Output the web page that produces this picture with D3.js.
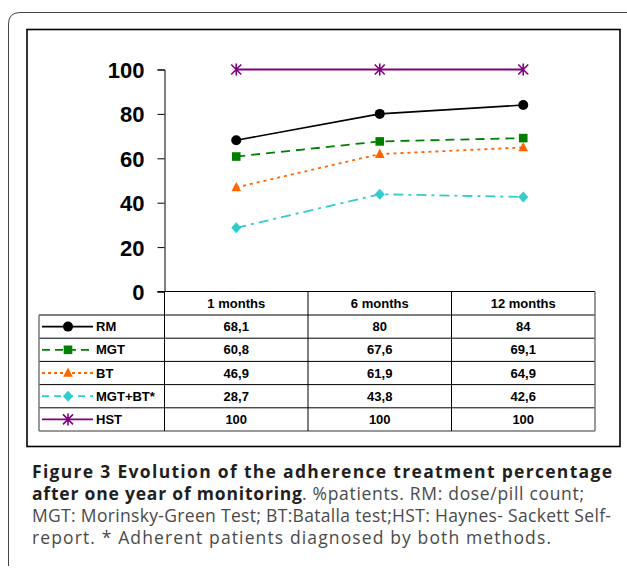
<!DOCTYPE html>
<html><head><meta charset="utf-8">
<script src="https://cdn.jsdelivr.net/npm/d3@7"></script>
<style>
html,body{margin:0;padding:0;background:#fff;}
svg{display:block;}
</style></head>
<body>
<svg id="c" width="627" height="569"></svg>
<script>
const categories = ["1 months", "6 months", "12 months"];
const seriesNames = ["RM", "MGT", "BT", "MGT+BT*", "HST"];
const rmValues = [68.1, 80, 84];
const mgtValues = [60.8, 67.6, 69.1];
const btValues = [46.9, 61.9, 64.9];
const mgtBtValues = [28.7, 43.8, 42.6];
const hstValues = [100, 100, 100];
const valueLabels = [
  ["68,1", "80", "84"],
  ["60,8", "67,6", "69,1"],
  ["46,9", "61,9", "64,9"],
  ["28,7", "43,8", "42,6"],
  ["100", "100", "100"]
];
const yTicks = [0, 20, 40, 60, 80, 100];

const styles = [
  {color:"#000000", dash:null, marker:"circle", width:1.6},
  {color:"#008000", dash:"9,6", marker:"square", width:1.8},
  {color:"#ff6600", dash:"3,4", marker:"triangle", width:1.8},
  {color:"#33cccc", dash:"10,5,3,5", marker:"diamond", width:1.8},
  {color:"#800080", dash:null, marker:"star", width:1.8}
];
const allValues = [rmValues, mgtValues, btValues, mgtBtValues, hstValues];

const svg = d3.select("#c");

// outer rounded frame
svg.append("path")
  .attr("d", "M8.5,566 L8.5,24 Q8.5,12.5 20,12.5 L640,12.5")
  .attr("fill","none").attr("stroke","#444").attr("stroke-width",1);

// inner chart box
svg.append("rect").attr("x",27).attr("y",29.5).attr("width",593).attr("height",417)
  .attr("fill","none").attr("stroke","#000").attr("stroke-width",1.6);

const colEdges = [164.5, 308, 451.5, 595];
const x = d3.scalePoint().domain(categories).range([236.25, 523.25]);
const y = d3.scaleLinear().domain([0,100]).range([291.5, 69.5]);

// Y axis
const yAxis = d3.axisLeft(y).tickValues(yTicks).tickSize(7).tickPadding(13).tickFormat(d3.format("d"));
const gy = svg.append("g").attr("transform","translate(164.5,0)").call(yAxis);
gy.select(".domain").attr("stroke","#000").attr("stroke-width",1);
gy.selectAll(".tick line").attr("stroke","#000");
gy.selectAll(".tick text").attr("font-family","'Liberation Sans', Arial, sans-serif")
  .attr("font-weight","bold").attr("font-size",22).attr("fill","#000")
  .attr("dy","0.36em");

// lines & markers
const line = d3.line().x((d,i)=>x(categories[i])).y(d=>y(d));
function drawMarker(g, type, color, cx, cy){
  if(type==="circle"){
    g.append("circle").attr("cx",cx).attr("cy",cy).attr("r",5).attr("fill",color);
  } else if(type==="square"){
    g.append("rect").attr("x",cx-4.3).attr("y",cy-4.3).attr("width",8.6).attr("height",8.6).attr("fill",color);
  } else if(type==="triangle"){
    g.append("path").attr("d",`M${cx},${cy-5.5}L${cx+4.8},${cy+3.8}L${cx-4.8},${cy+3.8}Z`).attr("fill",color);
  } else if(type==="diamond"){
    g.append("path").attr("d",`M${cx},${cy-5.5}L${cx+5},${cy}L${cx},${cy+5.5}L${cx-5},${cy}Z`).attr("fill",color);
  } else if(type==="star"){
    const s=5;
    g.append("path").attr("d",`M${cx-s},${cy-s}L${cx+s},${cy+s}M${cx-s},${cy+s}L${cx+s},${cy-s}M${cx},${cy-s-1}L${cx},${cy+s+1}`)
      .attr("stroke",color).attr("stroke-width",1.6).attr("fill","none");
  }
}
allValues.forEach((vals,si)=>{
  const st = styles[si];
  const g = svg.append("g");
  g.append("path").datum(vals).attr("d",line).attr("fill","none")
    .attr("stroke",st.color).attr("stroke-width",st.width)
    .attr("stroke-dasharray",st.dash);
  vals.forEach((v,i)=>drawMarker(g, st.marker, st.color, x(categories[i]), y(v)));
});

// Data table
const tableTop = 291.5, headerBottom = 315, rowH = 23.2;
const rowBottoms = seriesNames.map((d,i)=>headerBottom + rowH*(i+1));
const tableBottom = rowBottoms[rowBottoms.length-1];
const tg = svg.append("g").attr("stroke","#000").attr("stroke-width",1);
tg.append("line").attr("x1",157.5).attr("x2",colEdges[3]).attr("y1",tableTop).attr("y2",tableTop);
tg.append("line").attr("x1",39).attr("x2",colEdges[3]).attr("y1",headerBottom).attr("y2",headerBottom);
rowBottoms.forEach(yb=>{
  tg.append("line").attr("x1",39).attr("x2",colEdges[3]).attr("y1",yb).attr("y2",yb)
    .attr("stroke", yb===tableBottom ? "#777" : "#000").attr("stroke-width", yb===tableBottom?1.5:1);
});
colEdges.forEach((xe,i)=>{
  tg.append("line").attr("x1",xe).attr("x2",xe).attr("y1",tableTop).attr("y2",tableBottom)
    .attr("stroke", i===3 ? "#777" : "#000").attr("stroke-width", i===3?1.5:1);
});
tg.append("line").attr("x1",39).attr("x2",39).attr("y1",headerBottom).attr("y2",tableBottom)
  .attr("stroke","#777").attr("stroke-width",1.5);

const font = "'Liberation Sans', Arial, sans-serif";
svg.append("g").selectAll("text").data(categories).join("text")
  .attr("x",d=>x(d)).attr("y",(tableTop+headerBottom)/2).attr("dy","0.36em")
  .attr("text-anchor","middle").attr("font-family",font).attr("font-weight","bold")
  .attr("font-size",13).text(d=>d);

const legendDash = ["", "8,5", "3,3", "7,5", ""];
seriesNames.forEach((name,si)=>{
  const cy = headerBottom + rowH*si + rowH/2;
  const st = styles[si];
  const g = svg.append("g");
  g.append("line").attr("x1",42).attr("x2",93).attr("y1",cy).attr("y2",cy)
    .attr("stroke",st.color).attr("stroke-width",st.width)
    .attr("stroke-dasharray",legendDash[si]||null);
  drawMarker(g, st.marker, st.color, 68, cy);
  g.append("text").attr("x",96).attr("y",cy).attr("dy","0.36em")
    .attr("font-family",font).attr("font-weight","bold").attr("font-size",13).text(name);
  valueLabels[si].forEach((lab,ci)=>{
    g.append("text").attr("x",x(categories[ci])).attr("y",cy).attr("dy","0.36em")
      .attr("text-anchor","middle").attr("font-family",font).attr("font-weight","bold")
      .attr("font-size",13).text(lab);
  });
});

// Caption
const capFont = "'Open Sans', 'Noto Sans', sans-serif";
const cap = svg.append("g").attr("font-family",capFont).attr("font-size",17.5);
cap.append("text").attr("x",32).attr("y",478).attr("fill","#1f1f1f").attr("font-weight","bold")
  .attr("textLength",580).attr("lengthAdjust","spacing")
  .text("Figure 3 Evolution of the adherence treatment percentage");
cap.append("text").attr("x",32).attr("y",500).attr("font-weight","bold").attr("fill","#1f1f1f")
  .attr("textLength",270).attr("lengthAdjust","spacing")
  .text("after one year of monitoring");
cap.append("text").attr("x",302).attr("y",500).attr("fill","#4a4a4a")
  .attr("textLength",282).attr("lengthAdjust","spacing")
  .text(". %patients. RM: dose/pill count;");
cap.append("text").attr("x",32).attr("y",522).attr("fill","#4a4a4a")
  .attr("textLength",579).attr("lengthAdjust","spacing")
  .text("MGT: Morinsky-Green Test; BT:Batalla test;HST: Haynes- Sackett Self-");
cap.append("text").attr("x",32).attr("y",544).attr("fill","#4a4a4a")
  .attr("textLength",519).attr("lengthAdjust","spacing")
  .text("report. * Adherent patients diagnosed by both methods.");
</script>
</body></html>
